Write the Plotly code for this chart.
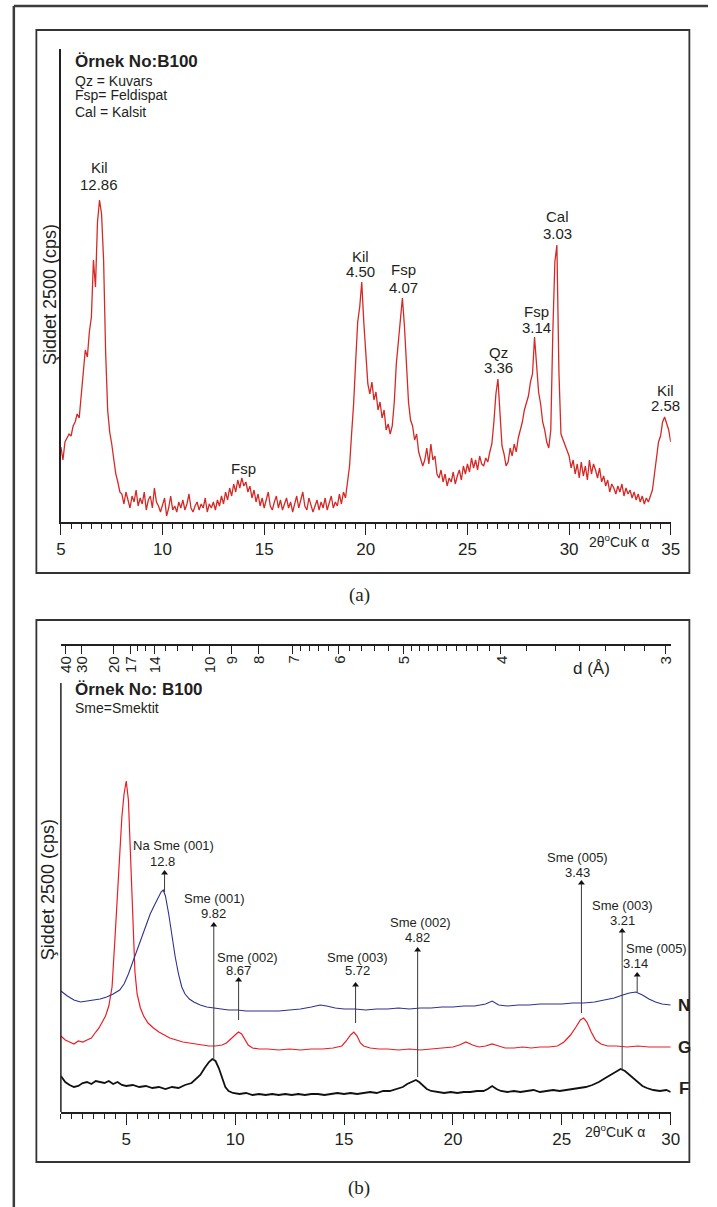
import numpy as np
import plotly.graph_objects as go

W, H = 717, 1207
FONT = "Liberation Sans, Arial, sans-serif"
INK = "#231f20"

# ---------------- Panel (a): Örnek No:B100, 2θ 5–35° ----------------
a_start, a_step = 5.0, 0.1
a_intensity = [
    75, 62, 80, 84, 88, 86, 96, 100, 108, 104,          # 5.x
    128, 150, 172, 165, 190, 205, 262, 235, 300, 322,   # 6.x
    308, 262, 170, 112, 90, 78, 62, 48, 40, 30,         # 7.x
    28, 18, 30, 22, 14, 26, 20, 32, 16, 24,             # 8.x
    18, 30, 12, 22, 26, 14, 34, 20, 16, 10,             # 9.x
    18, 24, 6, 14, 26, 12, 16, 10, 20, 14,              # 10.x
    22, 12, 18, 28, 14, 10, 16, 20, 12, 18,             # 11.x
    14, 24, 10, 18, 14, 20, 12, 22, 16, 26,             # 12.x
    18, 30, 22, 34, 26, 38, 30, 42, 34, 44,             # 13.x
    36, 40, 30, 36, 24, 32, 20, 28, 16, 24,             # 14.x
    14, 22, 30, 16, 12, 20, 26, 14, 22, 12,             # 15.x
    18, 24, 14, 20, 10, 18, 26, 14, 22, 30,             # 16.x
    16, 12, 24, 18, 10, 16, 22, 12, 20, 14,             # 17.x
    24, 12, 18, 26, 14, 20, 16, 28, 18, 30,             # 18.x
    24, 42, 56, 88, 118, 160, 200, 215, 240, 200,       # 19.x
    168, 138, 128, 140, 122, 130, 112, 120, 104, 112,   # 20.x
    92, 98, 88, 96, 120, 158, 180, 200, 224, 196,       # 21.x
    160, 120, 102, 96, 82, 88, 70, 64, 56, 62,          # 22.x
    74, 58, 78, 62, 66, 48, 44, 52, 40, 48,             # 23.x
    36, 44, 40, 50, 38, 46, 52, 42, 56, 48,             # 24.x
    58, 50, 64, 54, 62, 52, 66, 58, 56, 64,             # 25.x
    60, 70, 78, 100, 128, 143, 110, 76, 68, 56,         # 26.x
    60, 74, 66, 78, 70, 84, 92, 100, 112, 118,          # 27.x
    126, 140, 148, 185, 160, 130, 118, 100, 92, 80,     # 28.x
    74, 92, 190, 260, 277, 150, 88, 82, 76, 70,         # 29.x
    66, 54, 62, 48, 58, 44, 60, 46, 56, 42,             # 30.x
    62, 48, 58, 52, 44, 54, 40, 46, 36, 42,             # 31.x
    30, 38, 34, 28, 36, 30, 38, 26, 34, 28,             # 32.x
    32, 24, 30, 22, 28, 20, 26, 18, 24, 20,             # 33.x
    26, 32, 48, 64, 80, 86, 100, 105, 98, 92,           # 34.x
    80,                                                 # 35.0
]
a_two_theta = [round(a_start + i * a_step, 2) for i in range(len(a_intensity))]

# peak labels
a_label_names = ["Kil", "Fsp", "Kil", "Fsp", "Qz", "Fsp", "Cal", "Kil"]
a_label_values = ["12.86", "", "4.50", "4.07", "3.36", "3.14", "3.03", "2.58"]
a_label_x = [6.88, 13.97, 19.76, 21.84, 26.52, 28.40, 29.41, 34.72]
a_label_y_name = [354, 53, 265, 252, 169, 210, 305, 131]
a_label_y_val = [337, None, 250, 234, 154, 194, 288, 116]
a_legend = ["Qz = Kuvars", "Fsp= Feldispat", "Cal = Kalsit"]

# ---------------- Panel (b): Örnek No: B100, 2θ 2–30° ----------------
F_x = [2.0, 2.2, 2.4, 2.6, 2.8, 3.0, 3.2, 3.4, 3.6, 3.8, 4.0, 4.2, 4.4, 4.6, 4.8, 5.0,
       5.3, 5.6, 5.9, 6.2, 6.5, 6.8, 7.1, 7.4, 7.7, 8.0, 8.2, 8.4, 8.6, 8.8, 8.95, 9.1,
       9.25, 9.4, 9.55, 9.7, 9.9, 10.2, 10.5, 10.8, 11.1, 11.4, 11.7, 12.0, 12.3, 12.6,
       12.9, 13.2, 13.5, 13.8, 14.1, 14.4, 14.7, 15.0, 15.3, 15.6, 15.9, 16.2, 16.5,
       16.8, 17.1, 17.4, 17.7, 17.9, 18.1, 18.3, 18.45, 18.6, 18.8, 19.0, 19.3, 19.6,
       19.9, 20.2, 20.5, 20.8, 21.1, 21.4, 21.6, 21.8, 22.0, 22.2, 22.5, 22.8, 23.1,
       23.4, 23.7, 24.0, 24.3, 24.6, 24.9, 25.2, 25.5, 25.8, 26.1, 26.4, 26.7, 27.0,
       27.3, 27.5, 27.7, 27.9, 28.1, 28.3, 28.5, 28.7, 28.9, 29.2, 29.5, 29.8, 30.0]
F_y = [36, 30, 27, 25, 26, 29, 30, 28, 31, 30, 29, 31, 28, 30, 27, 26,
       27, 25, 26, 24, 25, 23, 25, 24, 27, 29, 33, 37, 44, 50, 53, 51,
       44, 34, 25, 21, 19, 18, 19, 17, 18, 17, 18, 17, 18, 17,
       18, 17, 18, 18, 17, 18, 19, 18, 19, 18, 19, 20, 19,
       21, 21, 23, 25, 28, 30, 32, 30, 27, 23, 21, 20, 19,
       20, 19, 20, 20, 21, 21, 23, 26, 23, 21, 20, 21, 20,
       21, 22, 20, 21, 22, 21, 22, 23, 24, 25, 27, 30, 34,
       38, 41, 43, 41, 37, 33, 29, 26, 24, 22, 21, 22, 20]

G_x = [2.0, 2.2, 2.4, 2.6, 2.8, 3.0, 3.2, 3.4, 3.6, 3.75, 3.9, 4.05, 4.2, 4.35, 4.5,
       4.65, 4.8, 4.9, 5.0, 5.1, 5.2, 5.3, 5.4, 5.5, 5.65, 5.8, 6.0, 6.25, 6.5, 6.75,
       7.0, 7.3, 7.6, 7.9, 8.2, 8.5, 8.8, 9.1, 9.4, 9.6, 9.8, 10.0, 10.15, 10.3, 10.45,
       10.6, 10.8, 11.1, 11.5, 12.0, 12.5, 13.0, 13.5, 14.0, 14.5, 14.9, 15.1, 15.3,
       15.45, 15.6, 15.75, 15.9, 16.2, 16.6, 17.0, 17.5, 18.0, 18.5, 19.0, 19.5, 20.0,
       20.3, 20.6, 20.9, 21.2, 21.5, 21.8, 22.1, 22.4, 22.8, 23.2, 23.6, 24.0, 24.4,
       24.8, 25.1, 25.4, 25.65, 25.85, 26.0, 26.15, 26.35, 26.55, 26.8, 27.1, 27.5,
       28.0, 28.5, 29.0, 29.5, 30.0]
G_y = [76, 72, 70, 68, 71, 70, 72, 74, 80, 84, 90, 96, 106, 125, 180,
       245, 295, 318, 331, 312, 255, 185, 140, 118, 104, 96, 89, 84, 80, 77,
       74, 72, 70, 69, 68, 67, 66, 66, 67, 69, 73, 77, 80, 78, 72,
       67, 64, 63, 63, 62, 63, 62, 63, 63, 64, 66, 71, 77,
       80, 76, 69, 66, 64, 63, 63, 62, 63, 62, 63, 64, 65,
       67, 70, 67, 65, 66, 68, 66, 64, 64, 65, 64, 65, 65,
       66, 70, 77, 85, 92, 94, 90, 80, 72, 68, 66, 66,
       65, 66, 65, 65, 65]

N_x = [2.0, 2.3, 2.6, 2.9, 3.2, 3.5, 3.8, 4.1, 4.4, 4.7, 4.9, 5.1, 5.3, 5.5, 5.7, 5.9,
       6.1, 6.3, 6.45, 6.6, 6.7, 6.8, 6.95, 7.1, 7.25, 7.4, 7.55, 7.7, 7.9, 8.1, 8.4,
       8.7, 9.0, 9.3, 9.7, 10.1, 10.5, 11.0, 11.5, 12.0, 12.5, 13.0, 13.5, 13.9, 14.2,
       14.6, 15.0, 15.5, 16.0, 16.5, 17.0, 17.5, 18.0, 18.5, 19.0, 19.5, 20.0, 20.5,
       21.0, 21.5, 21.8, 22.1, 22.5, 23.0, 23.5, 24.0, 24.5, 25.0, 25.5, 26.0, 26.5,
       27.0, 27.4, 27.8, 28.1, 28.4, 28.7, 29.0, 29.3, 29.6, 30.0]
N_y = [121, 116, 112, 110, 111, 112, 113, 115, 118, 122, 128, 138, 150, 163, 176, 188,
       198, 207, 213, 220, 222, 216, 198, 175, 155, 138, 125, 118, 113, 110, 107,
       105, 104, 103, 102, 102, 101, 101, 101, 101, 102, 103, 105, 107, 106,
       104, 103, 103, 102, 103, 103, 104, 103, 104, 104, 105, 105, 106,
       106, 108, 111, 107, 106, 107, 107, 108, 108, 108, 109, 109, 110,
       112, 114, 117, 119, 120, 117, 113, 110, 108, 107]

# top d-spacing scale (Å)
d_major = [40, 30, 20, 17, 14, 10, 9, 8, 7, 6, 5, 4, 3]
d_minor = [16, 15, 13, 12, 11, 6.8, 6.6, 6.4, 6.2, 5.8, 5.6, 5.4, 5.2,
           4.9, 4.8, 4.7, 4.6, 4.5, 4.4, 4.3, 4.2, 4.1, 3.8, 3.6, 3.45, 3.3, 3.2, 3.1]
CU_KALPHA = 1.5406

# peak annotations (vertical pointer lines with arrowheads)
b_arrow_x = [6.76, 9.02, 10.16, 15.53, 18.38, 25.90, 27.77, 28.46]
b_arrow_tail = [220, 52, 92, 89, 35, 99, 42, 120]
b_arrow_head = [242, 190, 135, 130, 165, 232, 184, 140]
b_label_names = ["Na Sme (001)", "Sme (001)", "Sme (002)", "Sme (003)",
                 "Sme (002)", "Sme (005)", "Sme (003)", "Sme (005)"]
b_label_name_x = [7.15, 9.06, 10.56, 15.63, 18.52, 25.72, 27.77, 29.36]
b_label_name_y = [267, 214, 155, 155, 190, 255, 207, 164]
b_label_vals = ["12.8", "9.82", "8.67", "5.72", "4.82", "3.43", "3.21", "3.14"]
b_label_val_x = [6.65, 9.02, 10.16, 15.60, 18.39, 25.72, 27.77, 28.37]
b_label_val_y = [251, 199, 142, 142, 175, 240, 192, 149]
series_names = ["N", "G", "F"]


def two_theta(d):
    return 2 * np.degrees(np.arcsin(CU_KALPHA / (2 * d)))


def px(x):
    return x / W


def py(y):
    return 1 - y / H


fig = go.Figure()
fig.add_trace(go.Scatter(x=a_two_theta, y=a_intensity, mode="lines",
                         line=dict(color="#d42a26", width=1.3),
                         xaxis="x", yaxis="y", showlegend=False, hoverinfo="skip"))
fig.add_trace(go.Scatter(x=F_x, y=F_y, mode="lines", line=dict(color="#111111", width=1.8),
                         xaxis="x2", yaxis="y2", showlegend=False, hoverinfo="skip"))
fig.add_trace(go.Scatter(x=G_x, y=G_y, mode="lines", line=dict(color="#ed1c24", width=1.2),
                         xaxis="x2", yaxis="y2", showlegend=False, hoverinfo="skip"))
fig.add_trace(go.Scatter(x=N_x, y=N_y, mode="lines", line=dict(color="#2e3192", width=1.1),
                         xaxis="x2", yaxis="y2", showlegend=False, hoverinfo="skip"))
# arrowheads (small filled triangles just below each head point)
fig.add_trace(go.Scatter(x=b_arrow_x, y=[h - 3 for h in b_arrow_head], mode="markers",
                         marker=dict(symbol="triangle-up", size=6, color="#111111",
                                     line=dict(width=0)),
                         xaxis="x2", yaxis="y2", showlegend=False, hoverinfo="skip"))
fig.add_trace(go.Scatter(x=[2, 30], y=[0, 0], mode="markers", marker=dict(opacity=0),
                         xaxis="x3", yaxis="y2", showlegend=False, hoverinfo="skip"))

xdom = [px(57), px(679)]
axis_common = dict(showline=True, linecolor=INK, linewidth=1.5, showgrid=False,
                   zeroline=False, ticks="outside", ticklen=11, tickwidth=1.4,
                   tickcolor=INK, dtick=5, tickfont=dict(family=FONT, size=17, color=INK),
                   minor=dict(ticks="outside", dtick=0.5, ticklen=5, tickwidth=1,
                              tickcolor=INK, showgrid=False))

annotations = []


def ann(text, x, y, size=14, bold=False, xanchor="center", yanchor="middle",
        xref="paper", yref="paper", family=FONT, angle=0):
    annotations.append(dict(text=f"<b>{text}</b>" if bold else text, x=x, y=y,
                            xref=xref, yref=yref, showarrow=False,
                            xanchor=xanchor, yanchor=yanchor, textangle=angle,
                            font=dict(family=family, size=size, color=INK)))


# panel (a) texts
ann("Örnek No:B100", px(69), py(62), size=17, bold=True, xanchor="left")
for t, yy in zip(a_legend, [81, 95, 112]):
    ann(t, px(69), py(yy), size=14, xanchor="left")
ann("Şiddet 2500 (cps)", px(46), py(295), size=18, angle=-90)
ann("2θ<sup>o</sup>CuK α", px(626), py(541), size=14)
ann("(a)", px(362), py(595), size=19, family="Liberation Serif, Times New Roman, serif")
for nm, vl, xx, yn, yv in zip(a_label_names, a_label_values, a_label_x,
                              a_label_y_name, a_label_y_val):
    ann(nm, xx, yn, size=15, xref="x", yref="y")
    if vl:
        ann(vl, xx, yv, size=15, xref="x", yref="y")

# panel (b) texts
ann("Örnek No: B100", px(69), py(690), size=17, bold=True, xanchor="left")
ann("Sme=Smektit", px(69), py(708), size=14, xanchor="left")
ann("Şiddet 2500 (cps)", px(44), py(890), size=18, angle=-90)
ann("2θ<sup>o</sup>CuK α", px(622), py(1131), size=14)
ann("(b)", px(361), py(1188), size=19, family="Liberation Serif, Times New Roman, serif")
ann("d (Å)", px(598), py(668), size=17)
for s, yy in zip(series_names, [1005, 1047, 1088]):
    ann(s, px(693), py(yy), size=17, bold=True)
for d in d_major:
    ann(f"{d}", two_theta(d), py(654), size=15, xref="x2", yanchor="top", angle=-90)
for nm, xn, yn, vl, xv, yv in zip(b_label_names, b_label_name_x, b_label_name_y,
                                  b_label_vals, b_label_val_x, b_label_val_y):
    ann(nm, xn, yn, size=13, xref="x2", yref="y2")
    ann(vl, xv, yv, size=13, xref="x2", yref="y2")

shapes = [
    dict(type="line", xref="paper", yref="paper", x0=px(9), y0=py(6), x1=1, y1=py(6),
         line=dict(color="#3c3c3c", width=2.5)),
    dict(type="line", xref="paper", yref="paper", x0=px(9), y0=py(6), x1=px(9), y1=0,
         line=dict(color="#3c3c3c", width=2.5)),
    dict(type="rect", xref="paper", yref="paper", x0=px(32), y0=py(30), x1=px(698),
         y1=py(573), line=dict(color="#333333", width=1.8)),
    dict(type="rect", xref="paper", yref="paper", x0=px(32), y0=py(620), x1=px(698),
         y1=py(1162), line=dict(color="#333333", width=1.8)),
    dict(type="line", xref="x2 domain", yref="y2", x0=0, x1=0, y0=0, y1=429,
         line=dict(color=INK, width=1.5)),
]
for xx, yt, yh in zip(b_arrow_x, b_arrow_tail, b_arrow_head):
    shapes.append(dict(type="line", xref="x2", yref="y2", x0=xx, x1=xx, y0=yt, y1=yh - 4,
                       line=dict(color="#3a3a3a", width=1)))

fig.update_layout(
    width=W, height=H, margin=dict(l=0, r=0, t=0, b=0),
    paper_bgcolor="white", plot_bgcolor="white", showlegend=False,
    xaxis=dict(domain=xdom, anchor="y", range=[4.999, 35.001], tick0=5, **axis_common),
    yaxis=dict(domain=[py(522), py(49)], anchor="x", range=[0, 473], showline=True,
               linecolor=INK, linewidth=1.5, showticklabels=False, ticks="",
               showgrid=False, zeroline=False),
    xaxis2=dict(domain=xdom, anchor="y2", range=[2, 30.001], tick0=0, **axis_common),
    yaxis2=dict(domain=[py(1112), py(646)], anchor="x2", range=[0, 466], visible=False),
    xaxis3=dict(overlaying="x2", anchor="y2", side="top", range=[2, 30.001],
                tickmode="array", tickvals=[two_theta(d) for d in d_major],
                ticks="inside", ticklen=8, tickwidth=1.3, tickcolor=INK,
                showticklabels=False, showline=True, linecolor=INK, linewidth=1.5,
                showgrid=False, zeroline=False,
                minor=dict(tickmode="array", tickvals=[two_theta(d) for d in d_minor],
                           ticks="inside", ticklen=5, tickwidth=1, tickcolor=INK,
                           showgrid=False)),
    annotations=annotations, shapes=shapes,
)

fig.write_html("out.html", config={"displayModeBar": False},
               post_script="document.body.style.margin='0';"
                           "document.body.style.padding='0';"
                           "document.body.style.overflow='hidden';")
